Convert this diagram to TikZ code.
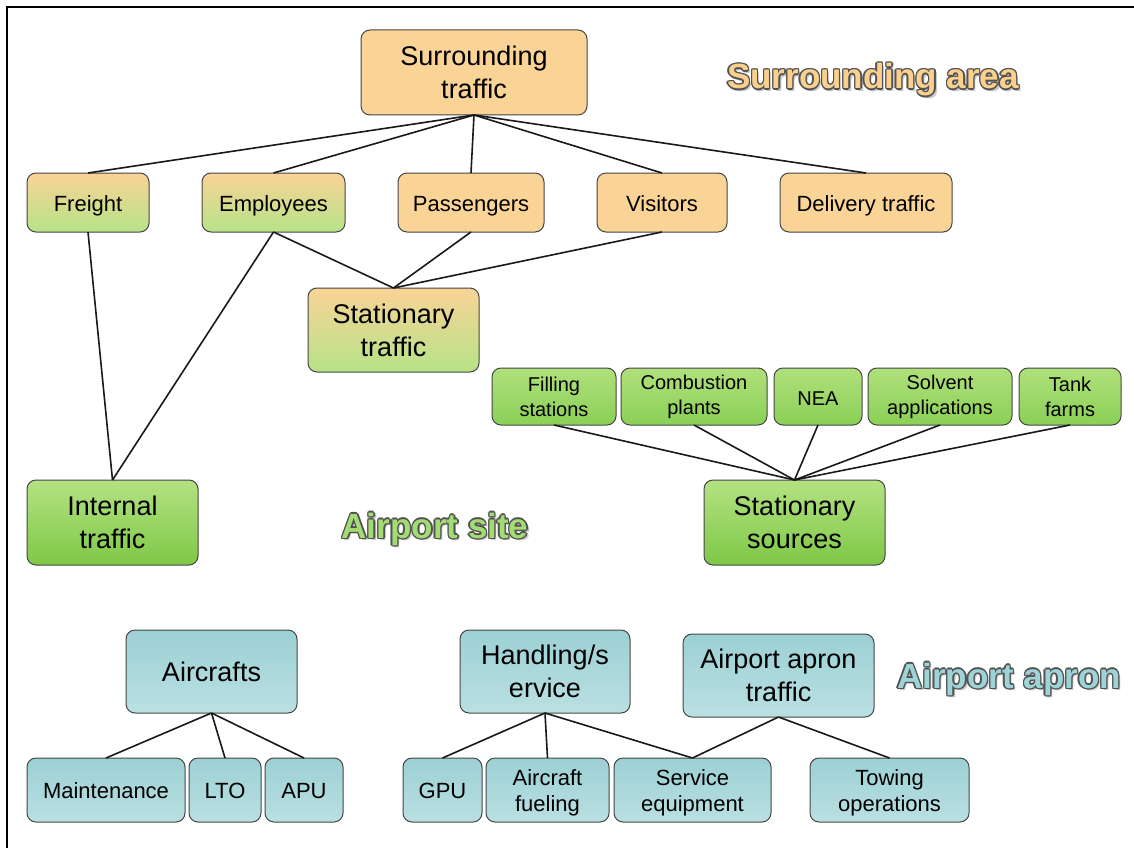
\documentclass[tikz,border=0pt]{standalone}
\usepackage{fontspec}
\setmainfont{Liberation Sans}
\usetikzlibrary{calc}
\definecolor{org}{RGB}{250,211,150}
\definecolor{lgr}{RGB}{182,227,136}
\definecolor{gtop}{RGB}{180,226,130}
\definecolor{gbot}{RGB}{126,200,70}
\definecolor{stop}{RGB}{176,224,124}
\definecolor{sbot}{RGB}{138,208,86}
\definecolor{ctop}{RGB}{156,208,212}
\definecolor{cbot}{RGB}{186,224,226}
\definecolor{tor}{RGB}{250,208,140}
\definecolor{tgr}{RGB}{164,220,116}
\definecolor{tcy}{RGB}{158,212,216}
\definecolor{edge}{RGB}{70,70,70}
\tikzset{
  basebox/.style={draw=edge, line width=1pt, rounded corners=9pt, inner sep=0pt, outer sep=0pt, align=center, text=black},
  orbox/.style={basebox, fill=org},
  mixbox/.style={basebox, top color=org, bottom color=lgr},
  grbox/.style={basebox, top color=gtop, bottom color=gbot},
  sgbox/.style={basebox, top color=stop, bottom color=sbot},
  cybox/.style={basebox, top color=ctop, bottom color=cbot},
  big/.style={font=\fontsize{27}{33}\selectfont},
  mid/.style={font=\fontsize{22}{26}\selectfont},
  small/.style={font=\fontsize{20}{25}\selectfont},
  one/.style={text height=20pt, text depth=3pt},
  onebig/.style={text height=24pt, text depth=4pt},
  conn/.style={line width=1.6pt, black!90},
  ttl/.style={font=\bfseries\fontsize{35}{40}\selectfont, inner sep=0pt},
}
\newcommand\bx[7]{\node[#6, minimum width={(#4-#2)*1pt}, minimum height={(#5-#3)*1pt}] (#1) at ({(#2+#4)/2},{(#3+#5)/2}) {#7};}
\newcommand\outl[4]{%
  \node[ttl, text=black!22] at ($(#2)+(2.3,2.3)$) {#4};
  \foreach \a in {0,45,...,315} {\node[ttl, text=black!68] at ($(#2)+(\a:1.4)$) {#4};}
  \node[ttl, text=#3] (#1) at (#2) {#4};}
\begin{document}
\begin{tikzpicture}[x=1pt,y=-1pt]
\useasboundingbox (0,0) rectangle (1134,848);
\fill[white] (0,0) rectangle (1134,848);
\draw[line width=2pt] (1134,7) -- (7,7) -- (7,848);
% surrounding
\bx{st}{361}{30}{587}{115}{orbox,big}{Surrounding\\traffic}
\bx{fr}{27}{173}{149}{232}{mixbox,mid,one}{Freight}
\bx{em}{202}{173}{345}{232}{mixbox,mid,one}{Employees}
\bx{pa}{398}{173}{544}{232}{orbox,mid,one}{Passengers}
\bx{vi}{597}{173}{727}{232}{orbox,mid,one}{Visitors}
\bx{de}{780}{173}{952}{232}{orbox,mid,one}{Delivery traffic}
\bx{sta}{308}{288}{479}{372}{mixbox,big}{Stationary\\traffic}
% stationary sources
\bx{fi}{492}{368}{616}{425}{sgbox,small}{Filling\\stations}
\bx{co}{621}{368}{767}{425}{sgbox,small}{Combustion\\plants}
\bx{ne}{774}{368}{862}{425}{sgbox,small,one}{NEA}
\bx{so}{868}{368}{1012}{425}{sgbox,small}{Solvent\\applications}
\bx{ta}{1019}{368}{1121}{425}{sgbox,small}{Tank\\farms}
\bx{it}{27}{480}{198}{565}{grbox,big}{Internal\\traffic}
\bx{ss}{704}{480}{885}{565}{grbox,big}{Stationary\\sources}
% apron
\bx{ac}{126}{630}{297}{713}{cybox,big,onebig}{Aircrafts}
\bx{hs}{460}{630}{630}{713}{cybox,big}{Handling/s\\ervice}
\bx{at}{683}{634}{874}{717}{cybox,big}{Airport apron\\traffic}
\bx{ma}{27}{758}{185}{822}{cybox,mid,one}{Maintenance}
\bx{lt}{189}{758}{261}{822}{cybox,mid,one}{LTO}
\bx{ap}{265}{758}{343}{822}{cybox,mid,one}{APU}
\bx{gp}{403}{758}{482}{822}{cybox,mid,one}{GPU}
\bx{af}{486}{758}{609}{822}{cybox,mid}{\rule{0pt}{22pt}Aircraft\\fueling}
\bx{se}{614}{758}{771}{822}{cybox,mid}{\rule{0pt}{22pt}Service\\equipment}
\bx{to}{810}{758}{969}{822}{cybox,mid}{\rule{0pt}{22pt}Towing\\operations}
% connectors
\foreach \t in {fr,em,pa,vi,de} \draw[conn] (st.south) -- (\t.north);
\draw[conn] (fr.south) -- (it.north);
\draw[conn] (em.south) -- (it.north);
\foreach \t in {em,pa,vi} \draw[conn] (\t.south) -- (sta.north);
\foreach \t in {fi,co,ne,so,ta} \draw[conn] (\t.south) -- (ss.north);
\foreach \t in {ma,lt,ap} \draw[conn] (ac.south) -- (\t.north);
\foreach \t in {gp,af,se} \draw[conn] (hs.south) -- (\t.north);
\foreach \t in {se,to} \draw[conn] (at.south) -- (\t.north);
% titles
\coordinate (p1) at (873,80);
\coordinate (p2) at (435,529);
\coordinate (p3) at (1009,679);
\outl{t1}{p1}{tor}{Surrounding area}
\outl{t2}{p2}{tgr}{Airport site}
\outl{t3}{p3}{tcy}{Airport apron}
\end{tikzpicture}
\end{document}
